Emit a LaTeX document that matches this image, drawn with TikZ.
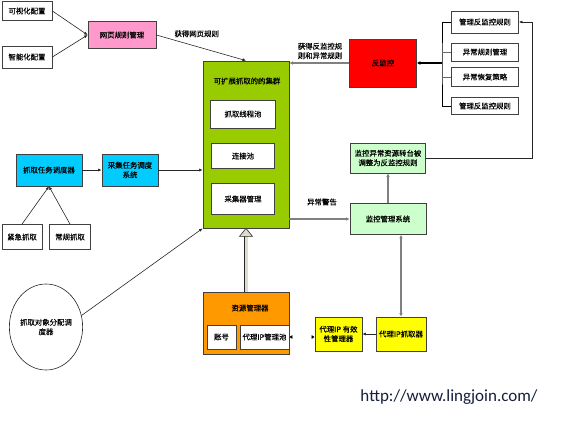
\documentclass[tikz,border=0pt]{standalone}
\usepackage{fontspec}
\newfontfamily\cjk[FakeBold=0.3]{Noto Sans CJK SC}
\newfontfamily\urlfont{Carlito}
\usetikzlibrary{arrows.meta,shapes,calc}
\definecolor{pinkbox}{RGB}{255,153,204}
\definecolor{greenbox}{RGB}{153,204,0}
\definecolor{cyanbox}{RGB}{0,204,255}
\definecolor{lgreen}{RGB}{204,255,204}
\definecolor{orangebox}{RGB}{255,153,0}
\definecolor{yellowbox}{RGB}{255,255,0}
\definecolor{redbox}{RGB}{255,0,0}
\definecolor{arrfill}{RGB}{221,221,204}
\definecolor{urlcol}{RGB}{22,30,58}

\begin{document}
\begin{tikzpicture}[x=1pt,y=-1pt,
  box/.style={rectangle,draw=black!75,line width=0.8pt,align=center,inner sep=1pt,
    font=\cjk\fontsize{7.4}{9.5}\selectfont},
  lbl/.style={align=center,inner sep=0pt,font=\cjk\fontsize{7.4}{9.5}\selectfont},
  lnk/.style={draw=black!85,line width=0.6pt,-{Latex[length=3.5pt,width=3pt]}},
  glnk/.style={draw=black!50,line width=1.1pt,-{Latex[length=3.5pt,width=3.5pt]}}]
 \useasboundingbox (0,0) rectangle (581,425);
 % page rules
 \node[box,minimum width=50,minimum height=19] (ks) at (27,11) {可视化配置};
 \node[box,minimum width=50,minimum height=22] (zn) at (27,57) {智能化配置};
 \node[box,fill=pinkbox,minimum width=68,minimum height=27] (wy) at (122,35) {网页规则管理};
 \draw[lnk] (ks.east) -- (wy.west);
 \draw[lnk] (zn.east) -- (wy.west);
 % cluster
 \node[box,fill=greenbox,minimum width=86,minimum height=167] (jq) at (246,144.5) {};
 \node[lbl] (jqt) at (247,81) {可扩展抓取的的集群};
 \node[box,fill=white,minimum width=65,minimum height=28] (xc) at (243,114) {抓取线程池};
 \node[box,fill=white,minimum width=63,minimum height=25] (lj) at (243,156) {连接池};
 \node[box,fill=white,minimum width=63,minimum height=31] (cq) at (243,199) {采集器管理};
 \draw[lnk] (wy.east) -- (jq.north) node[lbl,pos=0.45,above=9pt] {获得网页规则};
 % anti-monitoring
 \node[box,fill=redbox,minimum width=67,minimum height=48] (fjk) at (383,63) {反监控};
 \node[box,minimum width=67,minimum height=22] (gl1) at (485,22) {管理反监控规则};
 \node[box,minimum width=67,minimum height=18] (gl2) at (485,52) {异常规则管理};
 \node[box,minimum width=67,minimum height=19] (gl3) at (485,77) {异常恢复策略};
 \node[box,minimum width=67,minimum height=17] (gl4) at (485,106) {管理反监控规则};
 \coordinate (br) at (442,63);
 \draw[line width=0.6pt] (gl1.west) -| (br) |- (gl4.west);
 \draw[line width=0.6pt,draw=black!60] (gl2.west) -- (br |- gl2.west);
 \draw[line width=0.6pt,draw=black!60] (gl3.west) -- (br |- gl3.west);
 \draw[line width=1.6pt,-{Latex[length=3.5pt,width=4pt]}] (br) -- (fjk.east);
 \draw[glnk] (fjk.west) -- (jq.east |- fjk.west);
 \node[lbl] (fjkt) at (320,51) {获得反监控规\\则和异常规则};
 % monitoring
 \node[box,fill=lgreen,minimum width=75,minimum height=30] (jkyc) at (388,158) {监控异常资源转台被\\调整为反监控规则};
 \node[box,fill=lgreen,minimum width=76,minimum height=31] (jkxt) at (388,219) {监控管理系统};
 \coordinate (rt) at (532,22);
 \draw[lnk] (jkyc.east) -| (rt) -- (gl1.east);
 \draw[glnk] (jkxt.north) -- (jkyc.south);
 \draw[glnk] (jq.east |- jkxt.west) -- (jkxt.west);
 \node[lbl] (ycjg) at (322,202) {异常警告};
 % task scheduling
 \node[box,fill=cyanbox,minimum width=66,minimum height=32] (rw) at (49,170) {抓取任务调度器};
 \node[box,fill=cyanbox,minimum width=56,minimum height=32] (cj) at (130,170) {采集任务调度\\系统};
 \node[box,minimum width=40,minimum height=25] (jj) at (22,237) {紧急抓取};
 \node[box,minimum width=41,minimum height=25] (cg) at (70,237) {常规抓取};
 \draw[lnk] (rw.east) -- (cj.west);
 \draw[lnk] (cj.east) -- (jq.west |- cj.east);
 \draw[lnk] (jj.north) -- (rw.south);
 \draw[lnk] (cg.north) -- (rw.south);
 \node[ellipse,draw=black!85,line width=0.6pt,minimum width=60,minimum height=86,inner sep=0pt,
   align=center,font=\cjk\fontsize{7.4}{9.5}\selectfont] (dx) at (46,327) {抓取对象分配调\\度器};
 \draw[lnk] (dx.18) -- (jq.south west);
 % resources
 \node[box,fill=orangebox,minimum width=86,minimum height=62] (zy) at (246,323) {};
 \node[lbl] (zyt) at (250,308) {资源管理器};
 \node[box,fill=white,minimum width=29,minimum height=24] (zh) at (221.5,337) {账号};
 \node[box,fill=white,minimum width=49,minimum height=24,inner sep=0pt] (dlc) at (264.5,337) {代理IP管理池};
 \draw[draw=black!85,line width=0.6pt,double=arrfill,double distance=3pt] (zy.north) -- ($(jq.south)+(0,8)$);
 \draw[draw=black!85,line width=0.6pt,fill=arrfill] (jq.south) -- ++(6.5,8) -- ++(-13,0) -- cycle;
 \node[box,fill=yellowbox,minimum width=47,minimum height=34] (yx) at (338.5,334) {代理IP 有效\\性管理器};
 \node[box,fill=yellowbox,minimum width=50,minimum height=34,inner sep=0pt] (zq) at (401,334) {代理IP抓取器};
 \draw[lnk] (zq.west) -- (yx.east);
 \draw[glnk,{Latex[length=3.5pt,width=3.5pt]}-{Latex[length=3.5pt,width=3.5pt]}] (zq.north) -- (jkxt.south -| zq.north);
 \draw[line width=0.5pt,double,double distance=1.8pt,{Latex[length=3pt,width=4pt]}-{Latex[length=3pt,width=4pt]}] (dlc.east) -- (yx.west |- dlc.east);
 \node[text=urlcol,font=\urlfont\fontsize{17}{20}\selectfont,inner sep=0pt] (url) at (449,397) {http://www.lingjoin.com/};
\end{tikzpicture}
\end{document}
